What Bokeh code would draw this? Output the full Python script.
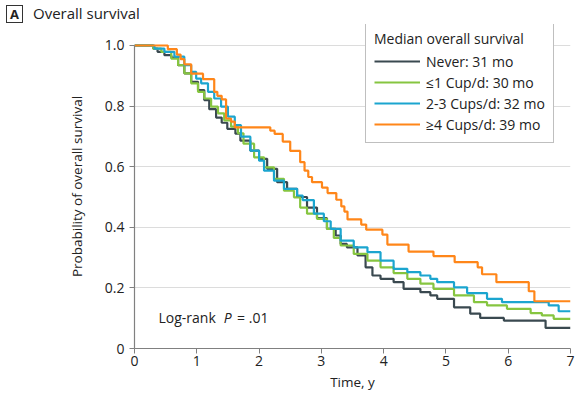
from bokeh.plotting import figure
from bokeh.models import Range1d, FixedTicker, Label, Legend, LegendItem, Div
from bokeh.layouts import column
from bokeh.embed import file_html
from bokeh.resources import INLINE

# ---- data ----
never_t = [0, 0.30, 0.37, 0.48, 0.59, 0.70, 0.80, 0.91, 1.02, 1.12, 1.20, 1.31, 1.40, 1.49, 1.62, 1.70,
           1.86, 2.00, 2.13, 2.29, 2.45, 2.61, 2.77, 2.93, 3.09, 3.23, 3.31, 3.41, 3.58, 3.71, 3.82, 3.95,
           4.16, 4.32, 4.59, 4.75, 4.86, 5.13, 5.39, 5.55, 5.93, 6.60, 7.0]
never_s = [1.0, 0.99, 0.979, 0.968, 0.960, 0.935, 0.908, 0.880, 0.853, 0.820, 0.790, 0.762, 0.745, 0.725,
           0.709, 0.686, 0.653, 0.626, 0.593, 0.549, 0.527, 0.500, 0.465, 0.430, 0.395, 0.373, 0.345, 0.334,
           0.307, 0.268, 0.241, 0.230, 0.219, 0.197, 0.186, 0.175, 0.164, 0.136, 0.115, 0.101, 0.092, 0.068, 0.068]

le1_t = [0, 0.30, 0.43, 0.59, 0.70, 0.80, 0.91, 1.02, 1.12, 1.23, 1.34, 1.44, 1.55, 1.66, 1.75, 1.92, 2.08,
         2.24, 2.40, 2.56, 2.66, 2.77, 2.93, 3.09, 3.20, 3.31, 3.52, 3.74, 3.95, 4.16, 4.38, 4.59, 4.80, 5.13,
         5.45, 5.66, 5.98, 6.36, 6.54, 6.73, 7.0]
le1_s = [1.0, 0.99, 0.979, 0.957, 0.935, 0.908, 0.875, 0.847, 0.825, 0.798, 0.776, 0.753, 0.732, 0.710, 0.676,
         0.631, 0.598, 0.560, 0.521, 0.499, 0.465, 0.445, 0.428, 0.395, 0.365, 0.340, 0.312, 0.290, 0.268,
         0.249, 0.230, 0.214, 0.197, 0.175, 0.153, 0.142, 0.131, 0.117, 0.109, 0.098, 0.098]

c23_t = [0, 0.32, 0.48, 0.64, 0.80, 0.91, 0.99, 1.07, 1.18, 1.28, 1.39, 1.50, 1.61, 1.71, 1.86, 2.00, 2.08,
         2.24, 2.40, 2.61, 2.70, 2.88, 3.04, 3.15, 3.31, 3.52, 3.74, 3.95, 4.16, 4.38, 4.59, 4.75, 4.86, 5.13,
         5.34, 5.66, 5.90, 6.65, 6.81, 7.0]
c23_s = [1.0, 0.99, 0.979, 0.963, 0.935, 0.913, 0.891, 0.875, 0.847, 0.825, 0.798, 0.765, 0.737, 0.699, 0.653,
         0.620, 0.587, 0.554, 0.527, 0.505, 0.490, 0.445, 0.420, 0.395, 0.356, 0.334, 0.318, 0.290, 0.263,
         0.252, 0.241, 0.230, 0.219, 0.202, 0.183, 0.164, 0.153, 0.142, 0.123, 0.123]

ge4_t = [0, 0.535, 0.68, 0.74, 0.80, 0.91, 1.10, 1.28, 1.33, 1.40, 1.47, 1.55, 1.61, 2.18, 2.25, 2.38, 2.50,
         2.66, 2.73, 2.79, 2.85, 3.01, 3.10, 3.24, 3.32, 3.37, 3.42, 3.64, 3.72, 3.98, 4.06, 4.40, 4.80, 5.14,
         5.51, 5.58, 5.81, 6.33, 6.42, 7.0]
ge4_s = [1.0, 0.988, 0.970, 0.955, 0.938, 0.907, 0.889, 0.847, 0.834, 0.822, 0.759, 0.749, 0.730, 0.719, 0.708,
         0.683, 0.652, 0.615, 0.587, 0.566, 0.549, 0.531, 0.513, 0.491, 0.469, 0.452, 0.426, 0.409, 0.392,
         0.376, 0.343, 0.320, 0.305, 0.285, 0.268, 0.245, 0.219, 0.189, 0.156, 0.156]

series_labels = ["Never: 31 mo", "\u22641 Cup/d: 30 mo", "2-3 Cups/d: 32 mo", "\u22654 Cups/d: 39 mo"]
series_colors = ["#3a4950", "#86c540", "#1ba5cf", "#ff8619"]

x_ticks = [0, 1, 2, 3, 4, 5, 6, 7]
y_ticks = [0, 0.2, 0.4, 0.6, 0.8, 1.0]
y_tick_labels = ["0", "0.2", "0.4", "0.6", "0.8", "1.0"]

FONT = "Open Sans"

# panel heading (HTML row above the plot)
header = Div(text=(
    '<div style="position:relative;width:576px;height:24px;font-family:\'Open Sans\';color:#222;">'
    '<span style="position:absolute;left:6px;top:5px;width:17px;height:18px;border:1px solid #333;'
    'box-sizing:border-box;font-weight:bold;font-size:13px;line-height:16px;text-align:center;">A</span>'
    '<span style="position:absolute;left:33px;top:2px;font-size:15px;line-height:22px;">Overall survival</span>'
    '</div>'), width=576, height=24, margin=(0, 0, 0, 0))

p = figure(width=576, height=372, output_backend="svg", toolbar_location=None,
           x_range=Range1d(0, 7), y_range=Range1d(0, 1.0693),
           min_border_left=134, min_border_right=6, min_border_top=0, min_border_bottom=48,
           margin=(0, 0, 0, 0))
p.outline_line_color = None
p.background_fill_color = "white"
p.border_fill_color = "white"

p.xgrid.grid_line_color = None
p.ygrid.grid_line_color = "#dcdcdc"
p.ygrid.grid_line_width = 1.2
p.ygrid.ticker = FixedTicker(ticks=y_ticks)

for ax in (p.xaxis[0], p.yaxis[0]):
    ax.axis_line_color = "#808080"
    ax.axis_line_width = 1.2
    ax.major_tick_line_color = "#808080"
    ax.major_tick_in = 0
    ax.major_tick_out = 5
    ax.minor_tick_line_color = None
    ax.major_label_text_font = FONT
    ax.major_label_text_font_size = "14px"
    ax.major_label_text_color = "#222222"
    ax.axis_label_text_font = FONT
    ax.axis_label_text_font_size = "13.5px"
    ax.axis_label_text_font_style = "normal"
    ax.axis_label_text_color = "#222222"

p.yaxis.bounds = (0, 1.0)
p.xaxis.ticker = FixedTicker(ticks=x_ticks)
p.yaxis.ticker = FixedTicker(ticks=y_ticks)
p.yaxis.major_label_overrides = {t: l for t, l in zip(y_ticks, y_tick_labels)}
p.xaxis.axis_label = "Time, y"
p.yaxis.axis_label = "Probability of overall survival"
p.xaxis.major_label_standoff = 2
p.xaxis.axis_label_standoff = 4
p.yaxis.major_label_standoff = 5
p.yaxis.axis_label_standoff = 16

renderers = []
for ts, ss, c in [(never_t, never_s, series_colors[0]), (le1_t, le1_s, series_colors[1]),
                  (c23_t, c23_s, series_colors[2]), (ge4_t, ge4_s, series_colors[3])]:
    r = p.step(ts, ss, mode="after", line_color=c, line_width=2.2)
    renderers.append(r)

legend = Legend(items=[LegendItem(label=l, renderers=[r]) for l, r in zip(series_labels, renderers)],
                location=(231, 205), title="Median overall survival",
                title_text_font=FONT, title_text_font_size="14px", title_text_font_style="normal",
                title_text_color="#222222", title_standoff=3,
                label_text_font=FONT, label_text_font_size="14px", label_text_color="#222222",
                glyph_width=46, glyph_height=20, label_height=20, label_standoff=6, spacing=1,
                padding=8, margin=0, border_line_color="#7f7f7f", border_line_width=1,
                background_fill_color="white", background_fill_alpha=1.0)
p.add_layout(legend, "center")

# Log-rank annotation
p.add_layout(Label(x=0.385, y=0.103, text="Log-rank", text_font=FONT, text_font_size="14px",
                   text_baseline="middle", text_color="#222222"))
p.add_layout(Label(x=1.433, y=0.103, text="P", text_font=FONT, text_font_size="14px",
                   text_font_style="italic", text_baseline="middle", text_color="#222222"))
p.add_layout(Label(x=1.647, y=0.103, text="= .01", text_font=FONT, text_font_size="14px",
                   text_baseline="middle", text_color="#222222"))

layout = column(header, p, spacing=0)
open("out.html", "w").write(file_html(layout, INLINE))
